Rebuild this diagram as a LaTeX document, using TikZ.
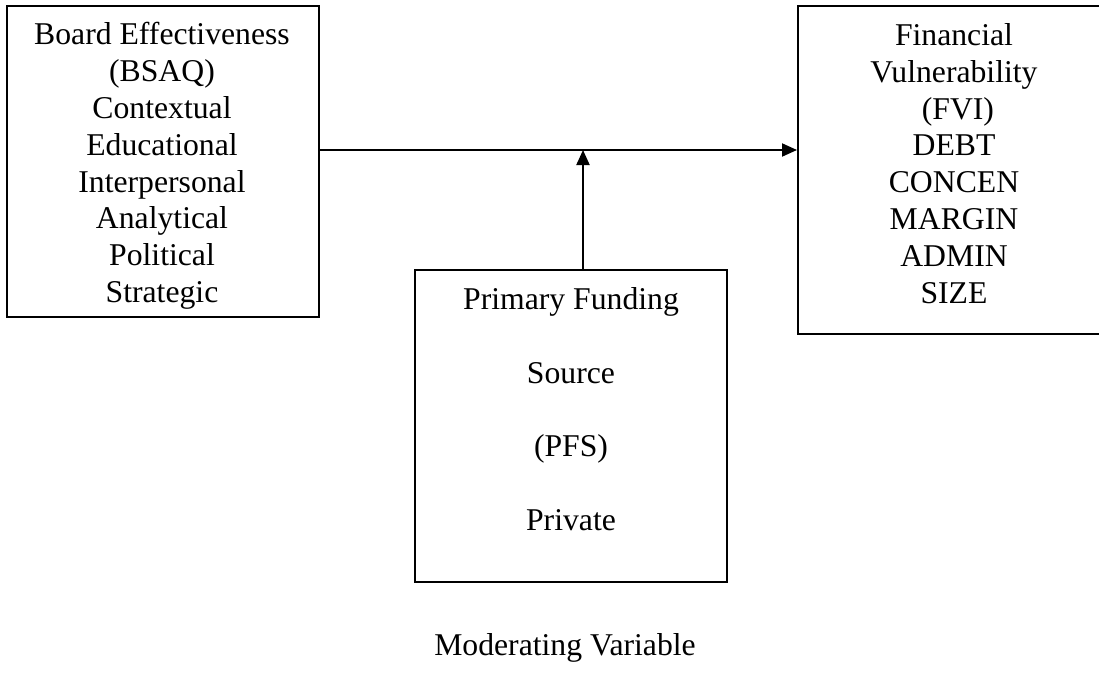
\documentclass[tikz,border=0pt]{standalone}
\usepackage{fontspec}
\setmainfont{Liberation Serif}
\usetikzlibrary{arrows.meta}
\begin{document}
\begin{tikzpicture}[x=0.5pt,y=-0.5pt,
  box/.style={draw=black,line width=1pt,rectangle,inner sep=0pt},
  txt/.style={align=center,inner sep=0pt,font=\fontsize{15.85pt}{18.4pt}\selectfont},
  txtwide/.style={align=center,inner sep=0pt,font=\fontsize{15.85pt}{36.8pt}\selectfont},
  arr/.style={line width=1pt,-{Triangle[length=7.5pt,width=6.5pt]}}]
\useasboundingbox (0,0) rectangle (1099,675);
\node[box,minimum width=156pt,minimum height=155.5pt] (bsaq) at (163,161.5) {};
\node[box,minimum width=152pt,minimum height=164pt] (fvi) at (950,170) {};
\node[box,minimum width=156pt,minimum height=156pt] (pfs) at (571,426) {};
\node[txt] (bsaqtext) at (162,166) {Board Effectiveness\\(BSAQ)\\Contextual\\Educational\\Interpersonal\\Analytical\\Political\\Strategic};
\node[txt] (fvitext) at (954,163.5) {Financial\\Vulnerability\\\ (FVI)\\DEBT\\CONCEN\\MARGIN\\ADMIN\\SIZE};
\node[txtwide] (pfstext) at (571,409) {Primary Funding\\Source\\(PFS)\\Private};
\node[txt] (mod) at (565,648) {Moderating Variable};
\coordinate (mid) at (583,150);
\draw[arr] (bsaq.east |- mid) -- (fvi.west |- mid);
\draw[arr] (pfs.north -| mid) -- (mid);
\end{tikzpicture}
\end{document}
